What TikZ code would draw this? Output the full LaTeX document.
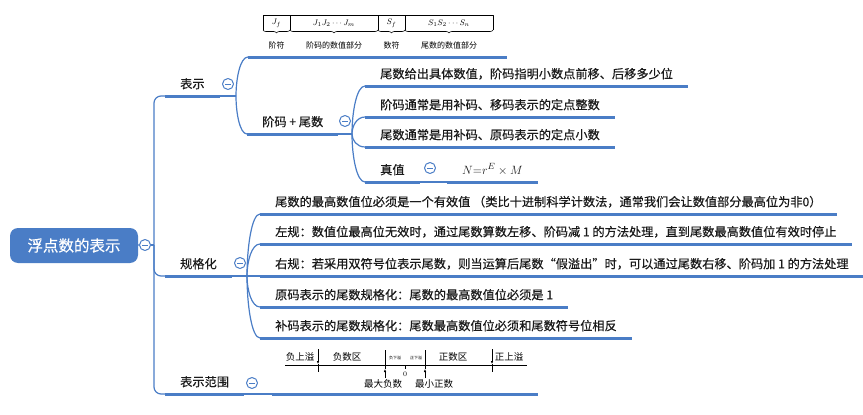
\documentclass[tikz,border=0pt]{standalone}
\usepackage{fontspec}
\newfontfamily\cjk{Noto Sans CJK SC}[FakeBold=0.5]
\newfontfamily\cjkfig{Noto Sans CJK SC}
\usetikzlibrary{calc,decorations.pathreplacing,arrows.meta}
\definecolor{mapblue}{HTML}{4A7DC6}
\definecolor{maptext}{HTML}{1A1A1A}
\newcommand{\curvelink}[2]{\draw[thinline] (#1) .. controls ($(#1)!0.45!(#1 |- #2)$)
  and ($(#1 |- #2)!0.35!(#2)$) .. (#2);}

\begin{document}
\begin{tikzpicture}[x=1pt, y=-1pt, line join=round, >={Latex[length=3pt,width=2.6pt]}]
  \useasboundingbox (0,0) rectangle (863,415);

  % 样式
  \tikzset{
    thinline/.style={draw=mapblue, line width=1.2pt},
    thickline/.style={draw=mapblue, line width=3pt},
    topic/.style={anchor=south west, inner xsep=15pt, inner ysep=4.5pt,
      text height=9pt, text depth=3pt, text=maptext,
      font=\cjk\fontsize{12.2}{14}\selectfont},
    fold/.style={circle, draw=mapblue, fill=white, line width=1pt,
      minimum size=11pt, inner sep=0pt,
      path picture={\draw[mapblue, line width=1pt]
        ([xshift=-2.6pt]path picture bounding box.center) --
        ([xshift=2.6pt]path picture bounding box.center);}},
    cellfont/.style={font=\fontsize{8.5}{9}\selectfont, inner sep=0pt},
    smalllabel/.style={font=\cjkfig\fontsize{8}{9}\selectfont, inner sep=0pt},
    axislabel/.style={font=\cjkfig\fontsize{9.5}{10}\selectfont, inner sep=0pt},
    figline/.style={line width=0.6pt, black}
  }

  % 中心主题
  \node[fill=mapblue, rounded corners=8pt, minimum width=128pt, minimum height=35pt,
        text=white, font=\cjk\fontsize{15.5}{17}\selectfont] (root) at (74,245.5) {浮点数的表示};
  \node[fold] (f-root) at (145,245) {};

  % 一级分支
  \node[topic] (biaoshi) at (165,96) {表示};
  \node[topic] (guige) at (165,276) {规格化};
  \node[topic] (fanwei) at (165,394) {表示范围};

  % 表示
  \node[topic, minimum width=259pt, minimum height=10pt] (geshi) at (248,57) {};
  \node[topic] (jiema) at (247,134) {阶码 + 尾数};
  \node[topic] (j1) at (365,86) {尾数给出具体数值，阶码指明小数点前移、后移多少位};
  \node[topic] (j2) at (365,117) {阶码通常是用补码、移码表示的定点整数};
  \node[topic] (j3) at (365,147) {尾数通常是用补码、原码表示的定点小数};
  \node[topic] (zhenzhi) at (365,182) {真值};
  \node[topic, font=\fontsize{12.2}{14}\selectfont] (formula) at (447,182) {$N{=}r^{E}\times M$};

  % 规格化
  \node[topic] (g1) at (260,214) {尾数的最高数值位必须是一个有效值 （类比十进制科学计数法，通常我们会让数值部分最高位为非0）};
  \node[topic] (g2) at (260,244) {左规：数值位最高位无效时，通过尾数算数左移、阶码减 1 的方法处理，直到尾数最高数值位有效时停止};
  \node[topic] (g3) at (260,276) {右规：若采用双符号位表示尾数，则当运算后尾数“假溢出”时，可以通过尾数右移、阶码加 1 的方法处理};
  \node[topic] (g4) at (260,307) {原码表示的尾数规格化：尾数的最高数值位必须是 1};
  \node[topic] (g5) at (260,338) {补码表示的尾数规格化：尾数最高数值位必须和尾数符号位相反};

  % 表示范围
  \node[topic, minimum width=266pt, minimum height=10pt] (fanweitu) at (272,394) {};

  % 下划线
  \foreach \n in {biaoshi, guige, fanwei, geshi, jiema, j1, j2, j3, zhenzhi, formula,
                  g1, g2, g3, g4, g5, fanweitu}
    \draw[thickline] (\n.south west) -- (\n.south east);

  % 主干
  \coordinate (trunk) at (154,245);
  \draw[thinline] (root) -- (f-root);
  \draw[thinline] (f-root) -- (trunk);
  \draw[thinline, rounded corners=7pt] (biaoshi.south west) -| (trunk) |- (fanwei.south west);
  \draw[thinline, rounded corners=7pt] (trunk) |- (guige.south west);

  % 分叉
  \coordinate (fork-bs) at (236,96);
  \draw[thinline] (biaoshi.south east) -- (fork-bs);
  \curvelink{fork-bs}{geshi.south west}
  \curvelink{fork-bs}{jiema.south west}

  \coordinate (fork-jm) at (352,134);
  \draw[thinline] (jiema.south east) -- (fork-jm);
  \foreach \c in {j1, j2, j3, zhenzhi}
    {\curvelink{fork-jm}{\c.south west}}
  \draw[thinline] (zhenzhi.south east) -- (formula.south west);

  \coordinate (fork-gg) at (247,276);
  \draw[thinline] (guige.south east) -- (fork-gg);
  \foreach \c in {g1, g2, g3, g4, g5}
    {\curvelink{fork-gg}{\c.south west}}

  \draw[thinline] (fanwei.south east) -- (fanweitu.south west);

  % 折叠按钮
  \node[fold] (f-bs) at (228,84) {};
  \node[fold] (f-jm) at (345,121) {};
  \node[fold] (f-zz) at (430,168) {};
  \node[fold] (f-gg) at (240,263) {};
  \node[fold] (f-fw) at (252,383) {};

  % 浮点数格式
  \draw[figline] (263,30) |- (493,15.5) -- (493,30);
  \foreach \x in {290,378,405}
    \draw[figline] (\x,15.5) -- (\x,30);
  \foreach \a/\b in {263/290, 290/378, 378/405, 405/493}
    \draw[figline, decorate, decoration={brace, mirror, amplitude=3pt}] (\a,30) -- (\b,30);
  \node[cellfont] (c-jf) at (276.5,23.5) {$J_f$};
  \node[cellfont] (c-jm) at (334,23.5) {$J_1J_2\cdots J_m$};
  \node[cellfont] (c-sf) at (391.5,23.5) {$S_f$};
  \node[cellfont] (c-sn) at (449,23.5) {$S_1S_2\cdots S_n$};
  \node[smalllabel] (l-jf) at (276.5,45) {阶符};
  \node[smalllabel] (l-jm) at (334,45) {阶码的数值部分};
  \node[smalllabel] (l-sf) at (391.5,45) {数符};
  \node[smalllabel] (l-sn) at (449,45) {尾数的数值部分};

  % 数轴
  \draw[figline] (285,365) -- (527,365);
  \foreach \x in {318,492} {
    \draw[figline, ->] (\x,349) -- (\x,364);
    \draw[figline] (\x,364) -- (\x,372);
  }
  \foreach \x in {385,425} {
    \draw[figline] (\x,350) -- (\x,369);
    \draw[figline, ->] (\x,378) -- (\x,369);
  }
  \draw[figline] (405,365) -- (405,368.5);
  \node[inner sep=0pt, font=\fontsize{7}{8}\selectfont] (zero) at (405,374) {0};
  \node[axislabel] (t1) at (300,357) {负上溢};
  \node[axislabel] (t2) at (347,357) {负数区};
  \node[inner sep=0pt, font=\cjkfig\fontsize{4}{5}\selectfont] (t3) at (395,358) {负下溢};
  \node[inner sep=0pt, font=\cjkfig\fontsize{4}{5}\selectfont] (t4) at (416,358) {正下溢};
  \node[axislabel] (t5) at (453,357) {正数区};
  \node[axislabel] (t6) at (509,357) {正上溢};
  \node[axislabel] (b1) at (383,384) {最大负数};
  \node[axislabel] (b2) at (434,384) {最小正数};

\end{tikzpicture}
\end{document}
